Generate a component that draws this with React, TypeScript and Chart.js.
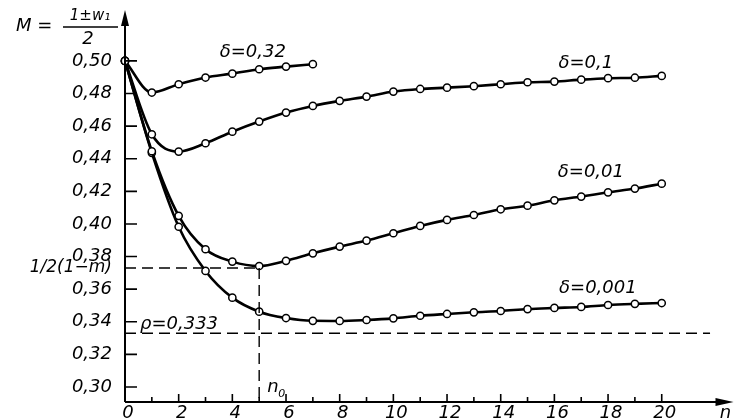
import { useEffect, useRef } from "react";
import { Chart, registerables } from "chart.js";
Chart.register(...registerables);

// ---- data ----
const nAll = [0, 1, 2, 3, 4, 5, 6, 7, 8, 9, 10, 11, 12, 13, 14, 15, 16, 17, 18, 19, 20];
const n032 = [0, 1, 2, 3, 4, 5, 6, 7];
const m032 = [0.5, 0.4806, 0.4857, 0.4898, 0.4922, 0.4949, 0.4965, 0.498];
const m01 = [0.5, 0.455, 0.4444, 0.4495, 0.4566, 0.4628, 0.4683, 0.4724, 0.4755, 0.4781, 0.4812, 0.4828, 0.4836, 0.4845, 0.4857, 0.4869, 0.4873, 0.4885, 0.4894, 0.4897, 0.4908];
const m001 = [0.5, 0.4446, 0.405, 0.3845, 0.3769, 0.3742, 0.3774, 0.382, 0.3861, 0.3898, 0.3943, 0.3988, 0.4025, 0.4055, 0.409, 0.4112, 0.4145, 0.4168, 0.4194, 0.4217, 0.4247];
const m0001 = [0.5, 0.4436, 0.3983, 0.3712, 0.3548, 0.3462, 0.3423, 0.3406, 0.3405, 0.3411, 0.3421, 0.3437, 0.3448, 0.3458, 0.3466, 0.3478, 0.3485, 0.3491, 0.3503, 0.351, 0.3515];
const curveLabels = ["δ=0,32", "δ=0,1", "δ=0,01", "δ=0,001"];
const curveLabelPos = [
  [4.76, 0.5051],
  [17.17, 0.4987],
  [17.36, 0.4319],
  [17.62, 0.3607],
];
const yTicks = [0.3, 0.32, 0.34, 0.36, 0.38, 0.4, 0.42, 0.44, 0.46, 0.48, 0.5];
const yTickLabels = ["0,30", "0,32", "0,34", "0,36", "0,38", "0,40", "0,42", "0,44", "0,46", "0,48", "0,50"];
const xTicks = [0, 2, 4, 6, 8, 10, 12, 14, 16, 18, 20];
const xMinorTicks = [1, 3, 5, 7, 9, 11, 13, 15, 17, 19];
const rho = 0.333;
const rhoEnd = 21.8;
const halfOneMinusM = 0.373;
const n0 = 5;
const xMin = 0, xMax = 22.6, yMin = 0.2908, yMax = 0.53;

const pts = (xs: number[], ys: number[]) => xs.map((x, i) => ({ x, y: ys[i] }));

const FONT = "'DejaVu Sans'";

export default function App() {
  const ref = useRef<HTMLCanvasElement | null>(null);
  useEffect(() => {
    if (!ref.current) return;
    const curveStyle = {
      borderColor: "#000",
      borderWidth: 2.6,
      pointRadius: 3.6,
      pointBorderWidth: 1.5,
      pointBackgroundColor: "#fff",
      pointBorderColor: "#000",
      cubicInterpolationMode: "monotone" as const,
      clip: false as const,
    };
    const dashStyle = {
      borderColor: "#000",
      borderWidth: 1.4,
      borderDash: [11, 6],
      pointRadius: 0,
      tension: 0,
      clip: false as const,
    };
    const overlay = {
      id: "overlay",
      afterDraw(chart: any) {
        const ctx = chart.ctx as CanvasRenderingContext2D;
        const xs = chart.scales.x;
        const ys = chart.scales.y;
        const X = (v: number) => xs.getPixelForValue(v);
        const Y = (v: number) => ys.getPixelForValue(v);
        const x0 = X(xMin), y0 = Y(yMin), xTop = Y(yMax), xRight = X(xMax);
        ctx.save();
        ctx.strokeStyle = "#000";
        ctx.fillStyle = "#000";
        ctx.lineWidth = 2;
        // axes
        ctx.beginPath();
        ctx.moveTo(x0, y0);
        ctx.lineTo(x0, xTop + 4);
        ctx.moveTo(x0, y0);
        ctx.lineTo(xRight - 4, y0);
        ctx.stroke();
        // arrows
        ctx.beginPath();
        ctx.moveTo(x0, xTop - 2);
        ctx.lineTo(x0 - 4, xTop + 14);
        ctx.lineTo(x0 + 4, xTop + 14);
        ctx.closePath();
        ctx.fill();
        ctx.beginPath();
        ctx.moveTo(xRight + 2, y0);
        ctx.lineTo(xRight - 16, y0 - 4);
        ctx.lineTo(xRight - 16, y0 + 4);
        ctx.closePath();
        ctx.fill();
        // ticks
        ctx.lineWidth = 1.6;
        ctx.beginPath();
        yTicks.forEach((t) => {
          ctx.moveTo(x0, Y(t));
          ctx.lineTo(x0 + 12, Y(t));
        });
        xTicks.forEach((t) => {
          if (t === 0) return;
          ctx.moveTo(X(t), y0);
          ctx.lineTo(X(t), y0 - 8);
        });
        xMinorTicks.forEach((t) => {
          ctx.moveTo(X(t), y0);
          ctx.lineTo(X(t), y0 - 5);
        });
        ctx.stroke();
        // tick labels
        ctx.font = `italic 18px ${FONT}`;
        ctx.textAlign = "right";
        ctx.textBaseline = "middle";
        yTicks.forEach((t, i) => ctx.fillText(yTickLabels[i], x0 - 13, Y(t)));
        ctx.font = `italic 17px ${FONT}`;
        ctx.fillText("1/2(1−m)", x0 - 13, Y(halfOneMinusM));
        ctx.font = `italic 18px ${FONT}`;
        ctx.textAlign = "center";
        xTicks.forEach((t) => ctx.fillText(String(t), X(t) + 3, y0 + 11));
        ctx.fillText("n", xRight - 6, y0 + 11);
        // curve labels
        ctx.font = `italic 18px ${FONT}`;
        curveLabels.forEach((s, i) => ctx.fillText(s, X(curveLabelPos[i][0]), Y(curveLabelPos[i][1])));
        ctx.textAlign = "left";
        ctx.fillText("ρ=0,333", X(0.56), Y(0.3386));
        ctx.fillText("n", X(5.3), Y(0.2996));
        ctx.font = `italic 11px ${FONT}`;
        ctx.fillText("0", X(5.3) + 11, Y(0.2996) + 6);
        // y-axis title
        ctx.font = `italic 18px ${FONT}`;
        ctx.textAlign = "left";
        ctx.fillText("M =", 16, 26);
        ctx.textAlign = "center";
        ctx.font = `italic 15px ${FONT}`;
        ctx.fillText("1±w₁", 90, 16);
        ctx.font = `italic 18px ${FONT}`;
        ctx.fillText("2", 88, 39);
        ctx.lineWidth = 1.6;
        ctx.beginPath();
        ctx.moveTo(63, 27);
        ctx.lineTo(118, 27);
        ctx.stroke();
        ctx.restore();
      },
    };
    const chart = new Chart(ref.current, {
      type: "line",
      data: {
        datasets: [
          { data: pts([0, rhoEnd], [rho, rho]), ...dashStyle },
          { data: pts([0, n0], [halfOneMinusM, halfOneMinusM]), ...dashStyle },
          { data: pts([n0, n0], [halfOneMinusM, yMin]), ...dashStyle },
          { data: pts(n032, m032), ...curveStyle },
          { data: pts(nAll, m01), ...curveStyle },
          { data: pts(nAll, m001), ...curveStyle },
          { data: pts(nAll, m0001), ...curveStyle },
        ] as any,
      },
      options: {
        animation: false,
        responsive: false,
        layout: { padding: { left: 125, right: 4, top: 12, bottom: 17 } },
        plugins: { legend: { display: false }, tooltip: { enabled: false } },
        scales: {
          x: { type: "linear", min: xMin, max: xMax, display: false },
          y: { type: "linear", min: yMin, max: yMax, display: false },
        },
      },
      plugins: [overlay],
    });
    return () => chart.destroy();
  }, []);
  return (
    <div style={{ position: "fixed", left: 0, top: 0, width: 737, height: 419, background: "#fff" }}>
      <canvas ref={ref} width={737} height={419} />
    </div>
  );
}
